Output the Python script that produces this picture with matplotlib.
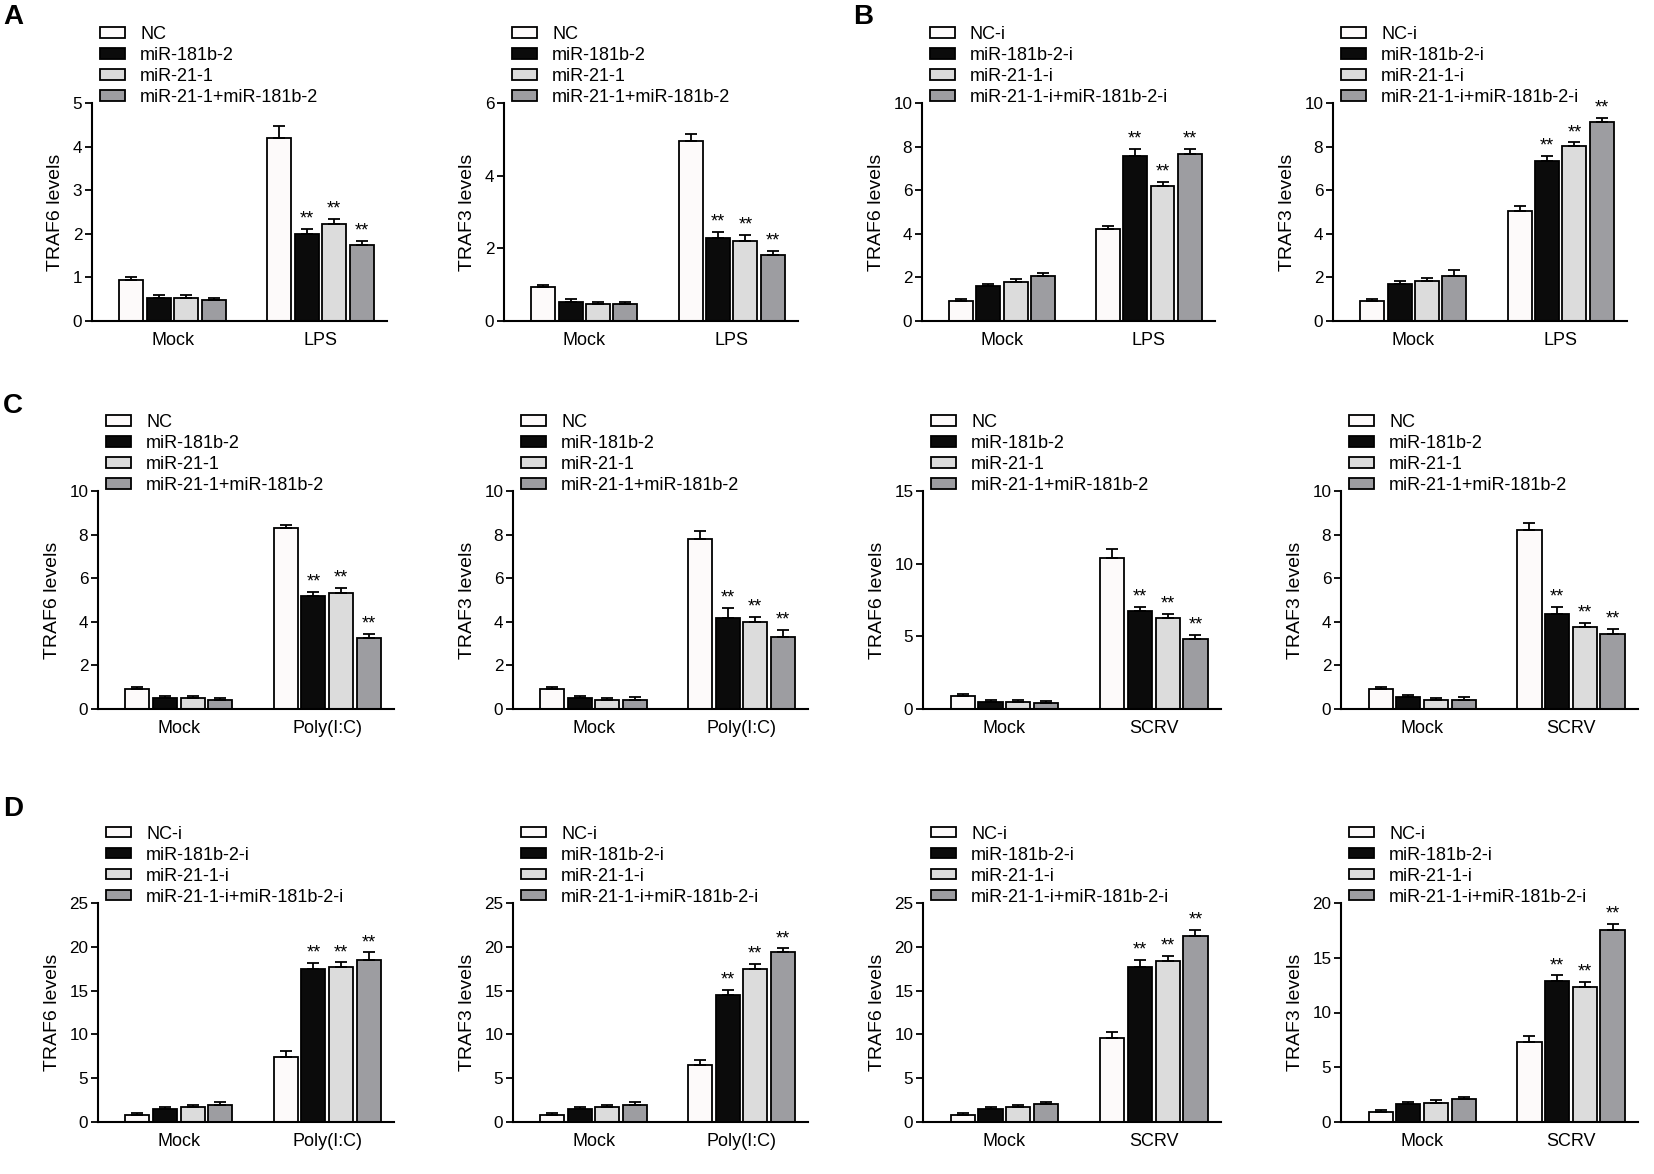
import numpy as np
import matplotlib
matplotlib.use("Agg")
import matplotlib.pyplot as plt

plt.rcParams['font.family'] = ['Liberation Sans', 'DejaVu Sans']

# legend labels and bar colours
labels_mimic = ['NC', 'miR-181b-2', 'miR-21-1', 'miR-21-1+miR-181b-2']
labels_inhib = ['NC-i', 'miR-181b-2-i', 'miR-21-1-i', 'miR-21-1-i+miR-181b-2-i']
bar_colors = ['#fdfafa', '#0b0b0b', '#dcdcdc', '#9d9da1']

# values: [Mock, stimulated] for each of the 4 groups
a1_mock = [0.95, 0.53, 0.53, 0.48]; a1_mock_err = [0.05, 0.07, 0.06, 0.05]
a1_stim = [4.20, 1.99, 2.22, 1.74]; a1_stim_err = [0.27, 0.13, 0.12, 0.10]
a2_mock = [0.94, 0.53, 0.46, 0.46]; a2_mock_err = [0.06, 0.08, 0.05, 0.07]
a2_stim = [4.95, 2.29, 2.20, 1.83]; a2_stim_err = [0.21, 0.16, 0.16, 0.10]
b1_mock = [0.92, 1.60, 1.77, 2.08]; b1_mock_err = [0.09, 0.09, 0.17, 0.14]
b1_stim = [4.23, 7.57, 6.21, 7.66]; b1_stim_err = [0.15, 0.34, 0.18, 0.24]
b2_mock = [0.92, 1.71, 1.83, 2.06]; b2_mock_err = [0.09, 0.12, 0.12, 0.27]
b2_stim = [5.05, 7.34, 8.02, 9.15]; b2_stim_err = [0.24, 0.23, 0.17, 0.18]
c1_mock = [0.91, 0.50, 0.50, 0.43]; c1_mock_err = [0.09, 0.10, 0.10, 0.09]
c1_stim = [8.31, 5.18, 5.34, 3.25]; c1_stim_err = [0.14, 0.18, 0.21, 0.18]
c2_mock = [0.91, 0.50, 0.40, 0.43]; c2_mock_err = [0.09, 0.10, 0.10, 0.12]
c2_stim = [7.82, 4.19, 3.98, 3.32]; c2_stim_err = [0.34, 0.46, 0.23, 0.30]
c3_mock = [0.92, 0.48, 0.48, 0.41]; c3_mock_err = [0.11, 0.14, 0.14, 0.14]
c3_stim = [10.37, 6.75, 6.25, 4.85]; c3_stim_err = [0.64, 0.30, 0.32, 0.25]
c4_mock = [0.91, 0.55, 0.43, 0.43]; c4_mock_err = [0.09, 0.08, 0.09, 0.12]
c4_stim = [8.20, 4.34, 3.78, 3.43]; c4_stim_err = [0.35, 0.35, 0.18, 0.26]
d1_mock = [0.84, 1.45, 1.68, 1.98]; d1_mock_err = [0.19, 0.23, 0.30, 0.27]
d1_stim = [7.44, 17.44, 17.75, 18.55]; d1_stim_err = [0.65, 0.76, 0.46, 0.80]
d2_mock = [0.84, 1.45, 1.68, 1.98]; d2_mock_err = [0.19, 0.23, 0.30, 0.27]
d2_stim = [6.49, 14.50, 17.44, 19.35]; d2_stim_err = [0.57, 0.57, 0.61, 0.46]
d3_mock = [0.84, 1.53, 1.68, 2.02]; d3_mock_err = [0.19, 0.20, 0.30, 0.27]
d3_stim = [9.62, 17.75, 18.40, 21.26]; d3_stim_err = [0.61, 0.76, 0.57, 0.69]
d4_mock = [0.90, 1.65, 1.77, 2.08]; d4_mock_err = [0.18, 0.15, 0.21, 0.21]
d4_stim = [7.28, 12.90, 12.30, 17.52]; d4_stim_err = [0.60, 0.48, 0.46, 0.60]

# (mock, mock_err, stim, stim_err, stim name, ylabel, ymax, ystep, legend labels, axes px box)
panels = [
    (a1_mock, a1_mock_err, a1_stim, a1_stim_err, 'LPS', 'TRAF6 levels', 5, 1, labels_mimic, (92, 387, 103, 321)),
    (a2_mock, a2_mock_err, a2_stim, a2_stim_err, 'LPS', 'TRAF3 levels', 6, 2, labels_mimic, (504, 798, 103, 321)),
    (b1_mock, b1_mock_err, b1_stim, b1_stim_err, 'LPS', 'TRAF6 levels', 10, 2, labels_inhib, (922, 1215, 103, 321)),
    (b2_mock, b2_mock_err, b2_stim, b2_stim_err, 'LPS', 'TRAF3 levels', 10, 2, labels_inhib, (1333, 1627, 103, 321)),
    (c1_mock, c1_mock_err, c1_stim, c1_stim_err, 'Poly(I:C)', 'TRAF6 levels', 10, 2, labels_mimic, (98, 394, 491, 709)),
    (c2_mock, c2_mock_err, c2_stim, c2_stim_err, 'Poly(I:C)', 'TRAF3 levels', 10, 2, labels_mimic, (513, 808, 491, 709)),
    (c3_mock, c3_mock_err, c3_stim, c3_stim_err, 'SCRV', 'TRAF6 levels', 15, 5, labels_mimic, (923, 1221, 491, 709)),
    (c4_mock, c4_mock_err, c4_stim, c4_stim_err, 'SCRV', 'TRAF3 levels', 10, 2, labels_mimic, (1341, 1638, 491, 709)),
    (d1_mock, d1_mock_err, d1_stim, d1_stim_err, 'Poly(I:C)', 'TRAF6 levels', 25, 5, labels_inhib, (98, 394, 903, 1122)),
    (d2_mock, d2_mock_err, d2_stim, d2_stim_err, 'Poly(I:C)', 'TRAF3 levels', 25, 5, labels_inhib, (513, 808, 903, 1122)),
    (d3_mock, d3_mock_err, d3_stim, d3_stim_err, 'SCRV', 'TRAF6 levels', 25, 5, labels_inhib, (923, 1221, 903, 1122)),
    (d4_mock, d4_mock_err, d4_stim, d4_stim_err, 'SCRV', 'TRAF3 levels', 20, 5, labels_inhib, (1341, 1638, 903, 1122)),
]

W, H = 1654, 1174
fig = plt.figure(figsize=(W / 100, H / 100), dpi=100)

step = 0.186
width = 0.162
lw = 1.3

for mock, mock_err, stim, stim_err, stim_name, ylab, ymax, ystep, labels, box in panels:
    x0, x1, y0, y1 = box
    ax = fig.add_axes([x0 / W, 1 - y1 / H, (x1 - x0) / W, (y1 - y0) / H])
    handles = []
    for i in range(4):
        xs = np.array([0, 1]) + (i - 1.5) * step
        vals = [mock[i], stim[i]]
        errs = [mock_err[i], stim_err[i]]
        b = ax.bar(xs, vals, width, color=bar_colors[i], edgecolor='black', linewidth=lw,
                   yerr=[[0, 0], errs], capsize=4,
                   error_kw=dict(elinewidth=lw, capthick=lw, ecolor='black'),
                   label=labels[i], zorder=2)
        handles.append(b)
        if i > 0:
            ax.annotate('**', (xs[1], stim[i] + stim_err[i]), xytext=(0, 1),
                        textcoords='offset points', ha='center', va='bottom', fontsize=13)
    ax.set_xlim(-0.545, 1.45)
    ax.set_ylim(0, ymax)
    ax.set_yticks(np.arange(0, ymax + 0.01, ystep))
    ax.set_xticks([0, 1])
    ax.set_xticklabels(['Mock', stim_name], fontsize=13)
    ax.tick_params(axis='x', length=0, pad=8)
    ax.tick_params(axis='y', length=5, width=lw, labelsize=12.3, pad=2)
    ax.set_ylabel(ylab, fontsize=14, labelpad=6)
    for s in ['top', 'right']:
        ax.spines[s].set_visible(False)
    for s in ['left', 'bottom']:
        ax.spines[s].set_linewidth(1.5)
    ax.legend(handles=handles, loc='upper left', bbox_to_anchor=(0.027, 1.353),
              frameon=False, fontsize=13, borderpad=0, borderaxespad=0,
              handlelength=1.39, handleheight=0.5, handletextpad=0.83, labelspacing=0.22)

# panel letters
for letter, px, py in [('A', 3, 4), ('B', 853, 4), ('C', 3, 393), ('D', 3, 796)]:
    fig.text(px / W, 1 - py / H, letter, fontsize=20, fontweight='bold', va='top', ha='left')

fig.savefig('out.png', dpi=100)
